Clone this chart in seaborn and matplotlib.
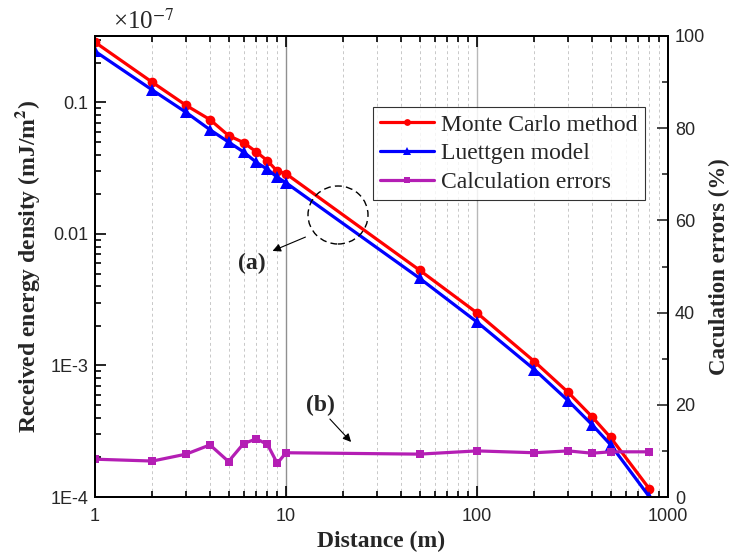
import numpy as np
import pandas as pd
import matplotlib
matplotlib.use("Agg")
import matplotlib.pyplot as plt
import seaborn as sns
from matplotlib.patches import Ellipse
from matplotlib.ticker import FixedLocator, FixedFormatter, NullFormatter, MultipleLocator, LogLocator

# ---------------- data ----------------
distance = [1, 2, 3, 4, 5, 6, 7, 8, 9, 10, 50, 100, 200, 300, 400, 500, 800]
monte_carlo = [0.287, 0.142, 0.095, 0.074, 0.056, 0.0495, 0.042, 0.036, 0.030, 0.0287,
               0.00531, 0.00251, 0.00107, 6.25e-4, 4.08e-4, 2.84e-4, 1.15e-4]
luettgen = [0.245, 0.124, 0.084, 0.062, 0.050, 0.042, 0.035, 0.031, 0.027, 0.0245,
            0.00461, 0.00214, 0.00093, 5.4e-4, 3.55e-4, 2.5e-4, 1.0e-4]
errors = [8.2, 7.8, 9.3, 11.3, 7.7, 11.6, 12.6, 11.4, 7.3, 9.6,
          9.3, 10.0, 9.6, 10.0, 9.5, 9.8, 9.8]

x_ticks = [1, 10, 100, 1000]
x_tick_labels = ["1", "10", "100", "1000"]
y_ticks = [1e-4, 1e-3, 1e-2, 1e-1]
y_tick_labels = ["1E-4", "1E-3", "0.01", "0.1"]
series_names = ["Monte Carlo method", "Luettgen model", "Calculation errors"]

df = pd.DataFrame({"distance": distance, "mc": monte_carlo, "lu": luettgen, "err": errors})

# ---------------- style ----------------
sns.set_style("ticks")
plt.rcParams["font.family"] = ["Liberation Sans", "DejaVu Sans"]
plt.rcParams["mathtext.fontset"] = "stix"
SERIF = ["Liberation Serif", "DejaVu Serif"]

fig = plt.figure(figsize=(7.3, 5.6), dpi=100)
fig.patch.set_facecolor("white")
ax = fig.add_axes([95 / 730, 1 - 497 / 560, 573 / 730, 461 / 560])
ax2 = ax.twinx()

red, blue, mag = "#FF0000", "#0000FF", "#B41EB4"

sns.lineplot(data=df, x="distance", y="mc", ax=ax, color=red, marker="o", markersize=7,
             markeredgewidth=0, linewidth=2.3, label=series_names[0], legend=False)
sns.lineplot(data=df, x="distance", y="lu", ax=ax, color=blue, marker="^", markersize=8,
             markeredgewidth=0, linewidth=2.3, label=series_names[1], legend=False)
sns.lineplot(data=df, x="distance", y="err", ax=ax2, color=mag, marker="s", markersize=6,
             markeredgewidth=0, linewidth=2.3, label=series_names[2], legend=False)

ax.set_xscale("log")
ax.set_yscale("log")
ax.set_xlim(1, 1000)
ax.set_ylim(1e-4, 0.32)
ax2.set_ylim(0, 100)

# grid (vertical only)
for v in [2, 3, 4, 5, 6, 7, 8, 9, 20, 30, 40, 50, 60, 70, 80, 90, 200, 300, 400, 500, 600, 700, 800, 900]:
    ax.axvline(v, color="#C8C8C8", lw=0.7, ls=(0, (3, 3)), zorder=0)
ax.axvline(10, color="#909090", lw=1.0, zorder=0)
ax.axvline(100, color="#B8B8B8", lw=1.0, zorder=0)

# ticks
ax.xaxis.set_major_locator(FixedLocator(x_ticks))
ax.xaxis.set_major_formatter(FixedFormatter(x_tick_labels))
ax.xaxis.set_minor_locator(LogLocator(base=10, subs=np.arange(2, 10)))
ax.xaxis.set_minor_formatter(NullFormatter())
ax.yaxis.set_major_locator(FixedLocator(y_ticks))
ax.yaxis.set_major_formatter(FixedFormatter(y_tick_labels))
ax.yaxis.set_minor_locator(LogLocator(base=10, subs=np.arange(2, 10)))
ax.yaxis.set_minor_formatter(NullFormatter())
ax2.yaxis.set_major_locator(MultipleLocator(20))
ax2.yaxis.set_minor_locator(MultipleLocator(10))

ax.tick_params(which="both", direction="in", top=True, right=False, labelsize=13, width=1.2, color="black")
ax.tick_params(which="major", length=8)
ax.tick_params(which="minor", length=4)
ax.tick_params(axis="x", pad=8)
ax.tick_params(axis="y", pad=5)
ax2.tick_params(which="both", direction="in", left=False, right=True, labelsize=13, width=1.2)
ax2.tick_params(which="major", length=8, pad=5)
ax2.tick_params(which="minor", length=4)

for a in (ax, ax2):
    for s in a.spines.values():
        s.set_linewidth(1.4)
        s.set_color("black")

ax.set_xlabel("Distance (m)", fontsize=17, fontweight="bold", family=SERIF, labelpad=4)
ax.set_ylabel("Received energy density (mJ/m$^{\\mathbf{2}}$)", fontsize=17, fontweight="bold",
              family=SERIF, labelpad=6)
ax2.set_ylabel("Caculation errors (%)", fontsize=16.5, fontweight="bold", family=SERIF, labelpad=3)

fig.text(113 / 730, 1 - 21 / 560, "×10$^{-7}$", fontsize=18, family=SERIF, ha="left", va="center")

# legend
h1, l1 = ax.get_legend_handles_labels()
h2, l2 = ax2.get_legend_handles_labels()
leg = ax2.legend(h1 + h2, l1 + l2, loc="upper left", bbox_to_anchor=(373 / 730, 1 - 107 / 560),
                 bbox_transform=fig.transFigure, borderaxespad=0, frameon=True, fancybox=False,
                 prop={"family": SERIF, "size": 17}, handlelength=2.3, handletextpad=0.3,
                 labelspacing=0.3, borderpad=0.3, markerscale=0.7)
leg.get_frame().set_edgecolor("black")
leg.get_frame().set_linewidth(0.8)

# annotations
ell = Ellipse(((338 - 95) / 573, (497 - 215) / 461), 60 / 573, 58 / 461, transform=ax.transAxes,
              fill=False, ls=(0, (5, 3)), lw=1.0, color="black", zorder=5)
ax.add_patch(ell)
ax.annotate("", xy=((270 - 95) / 573, (497 - 252) / 461), xycoords="axes fraction",
            xytext=((308 - 95) / 573, (497 - 236) / 461), textcoords="axes fraction",
            arrowprops=dict(arrowstyle="-|>", color="black", lw=0.8, mutation_scale=12))
ax.text((252 - 95) / 573, (497 - 263) / 461, "(a)", transform=ax.transAxes, fontsize=17,
        fontweight="bold", family=SERIF, ha="center", va="center")
ax.annotate("", xy=((353 - 95) / 573, (497 - 444) / 461), xycoords="axes fraction",
            xytext=((328 - 95) / 573, (497 - 417) / 461), textcoords="axes fraction",
            arrowprops=dict(arrowstyle="-|>", color="black", lw=0.8, mutation_scale=12))
ax.text((320 - 95) / 573, (497 - 405) / 461, "(b)", transform=ax.transAxes, fontsize=17,
        fontweight="bold", family=SERIF, ha="center", va="center")

fig.savefig("out.png", dpi=100, facecolor="white")
